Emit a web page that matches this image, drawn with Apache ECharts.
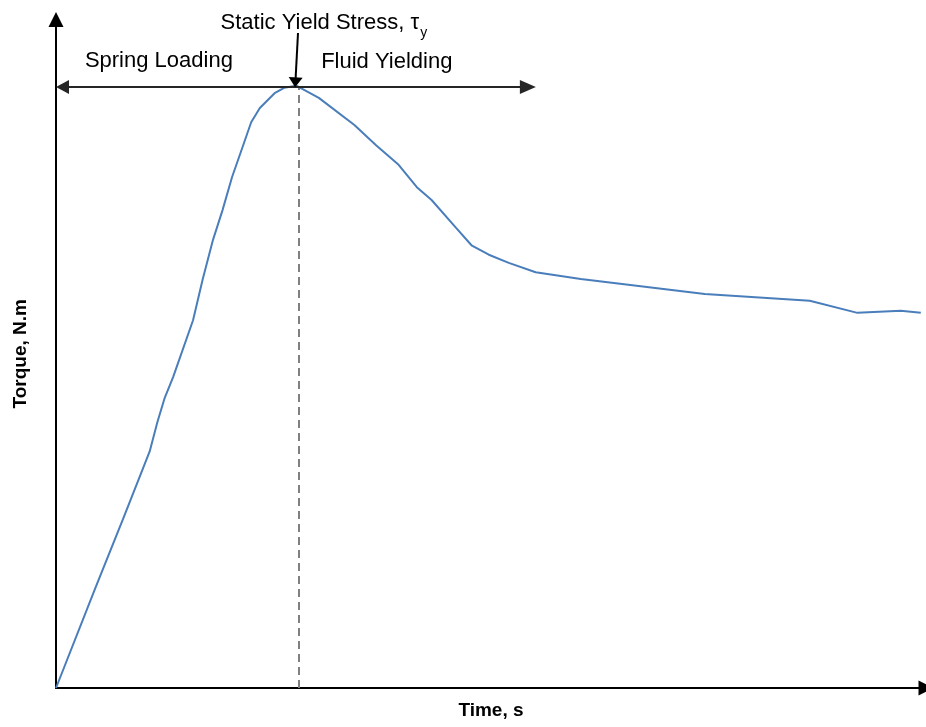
<!DOCTYPE html>
<html>
<head>
<meta charset="utf-8">
<script src="https://cdn.jsdelivr.net/npm/echarts@6/dist/echarts.min.js"></script>
<style>
html,body{margin:0;padding:0;background:#fff;}
#chart{width:926px;height:727px;}
</style>
</head>
<body>
<div id="chart"></div>
<script>
// Time (arbitrary units) and torque (arbitrary units)
const time = [0, 4.6, 7.7, 10.8, 11.7, 12.5, 13.5, 15.8, 16.9, 18.1, 19.2, 20.3, 21.5, 22.5, 23.5, 25.2, 26.3, 27.7,
  30.3, 34.4, 36.9, 39.5, 41.6, 43.3, 46.1, 47.9, 49.9, 52.2, 55.3, 60.5, 74.8, 86.9, 92.4, 97.4, 99.7];
const torque = [0, 15.0, 24.9, 35.0, 39.4, 42.8, 46.0, 54.4, 60.4, 66.3, 70.7, 75.6, 80.0, 83.7, 85.8, 88.0, 88.8, 89.1,
  87.3, 83.3, 80.3, 77.4, 74.1, 72.2, 68.1, 65.5, 64.1, 62.9, 61.5, 60.5, 58.3, 57.3, 55.5, 55.8, 55.5];

// Annotation anchors (data units)
const yieldX = 28.0;            // dashed line position at the peak
const rangeY = 88.9;            // level of the double-headed range arrow
const rangeStart = 0.75;        // left arrow head centre
const rangeEnd = 54.4;          // right arrow head centre
const pointerFrom = [27.9, 96.9];
const pointerTo = [27.6, 89.6];
const labelTexts = ['Spring Loading', 'Fluid Yielding'];
const labelPos = [[3.33, 92.8], [30.57, 92.6]];
const titlePos = [18.97, 98.4];

const chart = echarts.init(document.getElementById('chart'), null, {renderer: 'canvas'});
const FONT = 'Liberation Sans';

const option = {
  animation: false,
  backgroundColor: '#ffffff',
  grid: {left: 56, right: -2.5, top: 19.5, bottom: 39},
  xAxis: {
    type: 'value', min: 0, max: 100.3,
    name: 'Time, s', nameLocation: 'middle', nameGap: 13,
    nameTextStyle: {fontFamily: FONT, fontWeight: 'bold', fontSize: 19, color: '#000'},
    axisLine: {show: true, onZero: false, symbol: ['none', 'triangle'], symbolSize: [15, 15],
      lineStyle: {color: '#000', width: 2}},
    axisTick: {show: false}, axisLabel: {show: false}, splitLine: {show: false}
  },
  yAxis: {
    type: 'value', min: 0, max: 98.9,
    name: 'Torque, N.m', nameLocation: 'middle', nameGap: 26, nameRotate: 90,
    nameTextStyle: {fontFamily: FONT, fontWeight: 'bold', fontSize: 19, color: '#000'},
    axisLine: {show: true, onZero: false, symbol: ['none', 'triangle'], symbolSize: [15, 15],
      lineStyle: {color: '#000', width: 2}},
    axisTick: {show: false}, axisLabel: {show: false}, splitLine: {show: false}
  },
  series: [{
    type: 'line',
    data: time.map((t, i) => [t, torque[i]]),
    showSymbol: false,
    lineStyle: {color: '#4A7EBB', width: 2},
    itemStyle: {color: '#4A7EBB'},
    z: 3,
    markLine: {
      silent: true,
      animation: false,
      label: {show: false},
      emphasis: {disabled: true},
      data: [
        [{coord: [yieldX, 0], symbol: 'none', lineStyle: {color: '#808080', width: 2, type: [8, 5]}},
         {coord: [yieldX, rangeY], symbol: 'none'}],
        [{coord: [rangeStart, rangeY], symbol: 'triangle', symbolSize: [14, 13], lineStyle: {color: '#262626', width: 2, type: 'solid'}},
         {coord: [rangeEnd, rangeY], symbol: 'triangle', symbolSize: [14, 16]}],
        [{coord: pointerFrom, symbol: 'none', lineStyle: {color: '#000', width: 2, type: 'solid'}},
         {coord: pointerTo, symbol: 'triangle', symbolSize: [14, 10]}]
      ]
    },
    markPoint: {
      silent: true,
      symbol: 'circle', symbolSize: 0,
      label: {show: true, position: 'right', distance: 0, color: '#000', fontFamily: FONT, fontSize: 22},
      data: [
        {coord: labelPos[0], value: 0, label: {formatter: labelTexts[0]}},
        {coord: labelPos[1], value: 0, label: {formatter: labelTexts[1]}},
        {coord: titlePos, value: 0, label: {
          formatter: '{a|Static Yield Stress, τ}{s|y}',
          rich: {
            a: {fontFamily: FONT, fontSize: 22, color: '#000', lineHeight: 26},
            s: {fontFamily: FONT, fontSize: 14, color: '#000', verticalAlign: 'bottom', lineHeight: 26, padding: [0, 0, -4, 1]}
          }
        }}
      ]
    }
  }]
};
chart.setOption(option);
</script>
</body>
</html>
